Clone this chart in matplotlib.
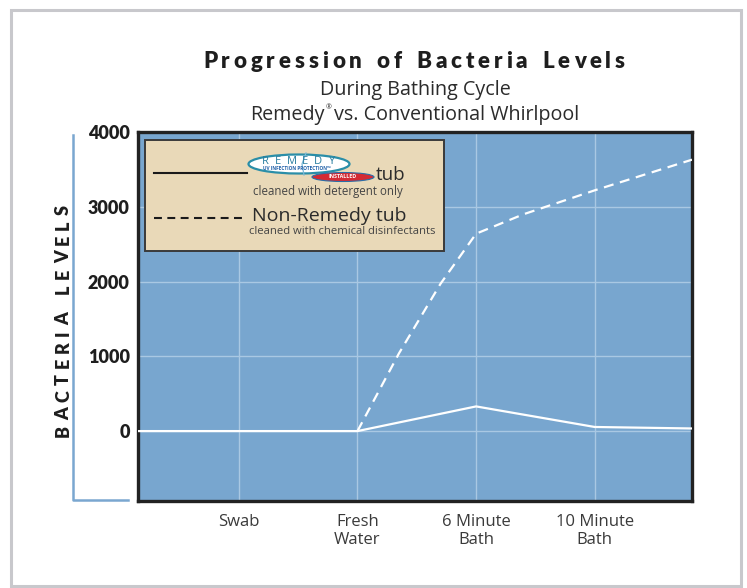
import matplotlib
matplotlib.use("Agg")
import matplotlib.pyplot as plt
from matplotlib.patches import Rectangle, Ellipse
from matplotlib.lines import Line2D
from matplotlib.font_manager import FontProperties

FAM = ['Open Sans', 'DejaVu Sans']
BOLD_FAM = ['Lato', 'DejaVu Sans']
plt.rcParams['font.family'] = FAM

# data
stages = ["Swab", "Fresh\nWater", "6 Minute\nBath", "10 Minute\nBath"]
remedy_x = [-0.85, 1, 2, 3, 3.82]
remedy_y = [0, 0, 330, 55, 35]
nonremedy_x = [1, 1.35, 1.7, 2.0, 2.4, 3.0, 3.82]
nonremedy_y = [0, 1040, 1970, 2640, 2900, 3220, 3630]
yticks = [0, 1000, 2000, 3000, 4000]

W, H = 747, 588
BG = '#78a6cf'
GRID = '#a9c8e3'
TXT = '#2b2b2b'


def fx(x):
    return x / W


def fy(y):
    return 1 - y / H


fig = plt.figure(figsize=(W / 100, H / 100), dpi=100)
renderer = fig.canvas.get_renderer()


def text_width(s, prop):
    return renderer.get_text_width_height_descent(s, prop, ismath=False)[0]


def spaced_text(x, y, s, prop, target, gap, vertical=False, color='#1e1e1e', zorder=3):
    # letter-spaced text fitted to a target length in pixels; x, y is the baseline centre
    widths = [gap if c == ' ' else text_width(c, prop) for c in s]
    track = (target - sum(widths)) / (len(s) - 1)
    pos = -target / 2
    for c, w in zip(s, widths):
        if c != ' ':
            if vertical:
                fig.text(fx(x), fy(y - pos), c, rotation=90, rotation_mode='anchor',
                         ha='left', va='baseline', fontproperties=prop, color=color, zorder=zorder)
            else:
                fig.text(fx(x + pos), fy(y), c, ha='left', va='baseline',
                         fontproperties=prop, color=color, zorder=zorder)
        pos += w + track


# outer frame
fig.add_artist(Rectangle((fx(11), fy(586)), fx(730), 576 / H, transform=fig.transFigure,
                         fill=False, ec='#c8c8cc', lw=2.2))

ax = fig.add_axes([fx(138), fy(501), fx(692 - 138), (501 - 132) / H])
ax.set_facecolor(BG)
ax.plot(remedy_x, remedy_y, color='white', lw=1.6, zorder=3)
ax.plot(nonremedy_x, nonremedy_y, color='white', lw=1.6, dashes=(4.5, 3), zorder=3)

ax.set_xlim(-0.85, 3.82)
ax.set_ylim(-935, 4000)
ax.set_xticks(range(len(stages)))
ax.set_xticklabels(stages, fontsize=12, color='#3a3a3a', linespacing=1.25)
ax.set_yticks(yticks)
ax.set_yticklabels([str(v) for v in yticks], fontsize=13, fontweight='heavy', color='#1e1e1e',
                   family=BOLD_FAM)
ax.tick_params(length=0, pad=6)
ax.tick_params(axis='x', pad=9)
ax.grid(True, color=GRID, lw=1)
ax.set_axisbelow(True)
for s in ax.spines.values():
    s.set_color('#222222')
    s.set_linewidth(2.4)

# y axis label and bracket
ylab_prop = FontProperties(family=BOLD_FAM, weight='heavy', size=13)
spaced_text(69, 321, "BACTERIA LEVELS", ylab_prop, 232, 8, vertical=True)
fig.add_artist(Line2D([fx(73), fx(73), fx(128)], [fy(135), fy(500), fy(500)],
                      transform=fig.transFigure, color='#7aa7d0', lw=1.8))

# titles
title_prop = FontProperties(family=BOLD_FAM, weight='heavy', size=16)
spaced_text(414, 68, "Progression of Bacteria Levels", title_prop, 422, 7)
sub_prop = FontProperties(family=FAM, size=14.2)
fig.text(fx(415), fy(90), "During Bathing Cycle", ha='center', va='center',
         fontproperties=sub_prop, color=TXT)
w1 = text_width("Remedy", sub_prop)
w2 = text_width("vs. Conventional Whirlpool", sub_prop)
gap = 9
x0 = 415 - (w1 + gap + w2) / 2
fig.text(fx(x0), fy(115), "Remedy", ha='left', va='center', fontproperties=sub_prop, color=TXT)
fig.text(fx(x0 + w1 + 0.5), fy(108), "\u00ae", ha='left', va='center', fontsize=5, color=TXT)
fig.text(fx(x0 + w1 + gap), fy(115), "vs. Conventional Whirlpool", ha='left', va='center',
         fontproperties=sub_prop, color=TXT)

# legend box
fig.add_artist(Rectangle((fx(145), fy(251)), fx(299), 111 / H, transform=fig.transFigure,
                         fc='#e9d9b8', ec='#3a3a3a', lw=1.4, zorder=5))
fig.add_artist(Line2D([fx(154), fx(247)], [fy(173), fy(173)], transform=fig.transFigure,
                      color='#1a1a1a', lw=1.5, zorder=6))
fig.add_artist(Line2D([fx(154), fx(247)], [fy(218), fy(218)], transform=fig.transFigure,
                      color='#1a1a1a', lw=1.5, dashes=(3.8, 2.6), zorder=6))

# remedy logo
fig.add_artist(Ellipse((fx(299), fy(164)), fx(101), 19 / H, transform=fig.transFigure,
                       fc='white', ec='#2a8ea8', lw=1.6, zorder=6))
logo_prop = FontProperties(family=FAM, size=8)
spaced_text(298, 164.5, "REMEDY", logo_prop, 72, 0, color='#2a7ea0', zorder=7)
fig.text(fx(297), fy(169), "UV INFECTION PROTECTION\u2122", ha='center', va='center', fontsize=3.4,
         fontweight='bold', color='#2060a8', zorder=7)
fig.add_artist(Line2D([fx(306), fx(302), fx(304)], [fy(153), fy(164), fy(175)],
                      transform=fig.transFigure, color='#7ab8d8', lw=0.9, zorder=7))
fig.add_artist(Ellipse((fx(343), fy(177)), fx(62), 9 / H, transform=fig.transFigure,
                       fc='#d42a34', ec='#2a6ea8', lw=0.8, zorder=7))
fig.text(fx(343), fy(177), "INSTALLED", ha='center', va='center', fontsize=3.8,
         fontweight='bold', color='white', zorder=8)

fig.text(fx(376), fy(175), "tub", ha='left', va='center', fontsize=13.5, color=TXT, zorder=7)
fig.text(fx(253), fy(192), "cleaned with detergent only", ha='left', va='center', fontsize=8.3,
         color='#444444', zorder=7)
fig.text(fx(252), fy(216), "Non-Remedy tub", ha='left', va='center', fontsize=14, color=TXT, zorder=7)
fig.text(fx(249), fy(232), "cleaned with chemical disinfectants", ha='left', va='center', fontsize=8.1,
         color='#444444', zorder=7)

fig.savefig("out.png", dpi=100, facecolor='white')
